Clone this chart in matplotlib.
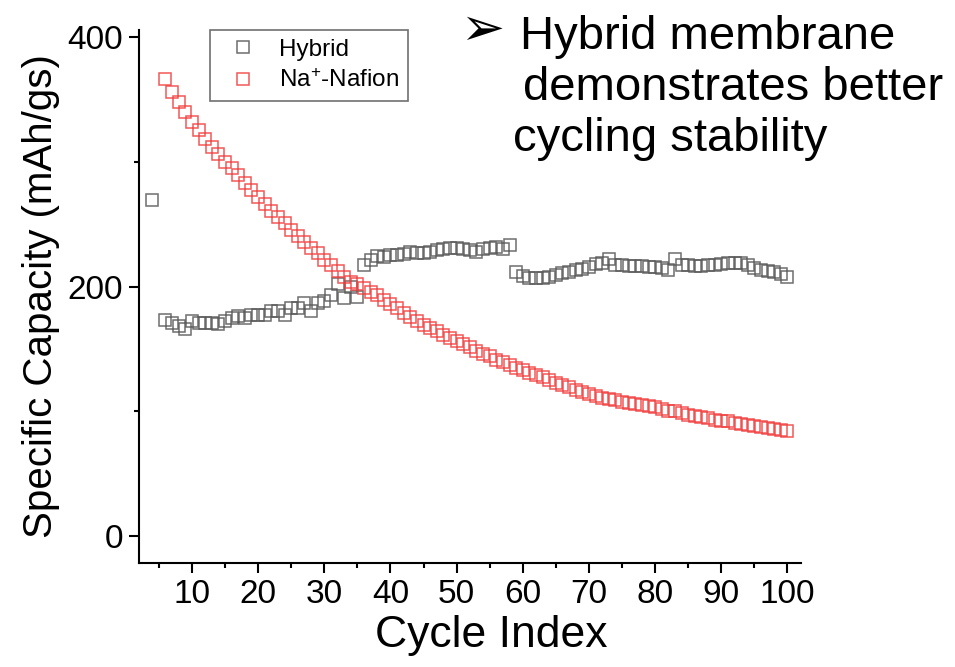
import matplotlib
matplotlib.use('Agg')
import matplotlib.pyplot as plt
from matplotlib.ticker import MultipleLocator

plt.rcParams['font.family'] = ['Liberation Sans', 'DejaVu Sans']
plt.rcParams['mathtext.default'] = 'regular'

# cycle capacity data
hybrid_cycles = [4] + list(range(6, 101))
hybrid_capacity = [
    269,
    173, 171, 168.5, 166, 172.5, 170.5, 171, 171, 170, 172.5,
    175, 176.5, 175, 177, 177, 177, 180, 180, 177, 182.5,
    183, 187, 180.5, 186.5, 188, 193.5, 202, 190.5, 200, 192,
    217, 221, 224.5, 224, 225, 225, 225.7, 227.5, 226.5, 226.5,
    228, 229, 230, 231, 231, 230, 229, 228, 230, 231,
    232, 230, 233,
    212, 208.5, 206.5, 206.5, 206.5, 208, 209, 210.5, 212, 213,
    214, 216, 217.7, 218.5, 221.7, 217.2, 216.9, 216.4, 216.4, 216.4,
    216, 215.5, 214.5, 213.2, 221.7, 217.2, 216.9, 216.4, 216.4, 216.9,
    217.2, 218, 218.5, 219, 218.5, 217.2, 214.5, 213.2, 212.7, 211.9,
    210, 208,
]

nafion_cycles = list(range(6, 101))
nafion_capacity = [
    365.7, 355.9, 347.9, 339.9, 331.9, 325.2, 317.7, 311.9, 305.7, 299.9,
    294.5, 289.2, 283.1, 277.2, 271.9, 266, 260.4, 255.9, 250.5, 245.2,
    240.7, 235.9, 230.5, 226.5, 221.2, 217.2, 212.4, 207.9, 203.9, 202,
    199.1, 195.9,
    193, 189.5, 186, 182.5, 179, 175.5, 172.5, 169.5, 167, 164,
    161.5, 159, 156.5, 154, 151.5, 148.5, 146, 144, 141.5, 139.5,
    137.5, 135, 133, 131, 129, 127.5, 125, 123, 121.5, 119.5,
    117, 115.5, 114, 112.5, 111, 109.8, 108.8, 107.8, 106.8, 106,
    105.2, 104.4, 103.3, 101.7, 100.7, 100, 98.5, 97.2, 96, 95.3,
    94.5, 93.2, 92.7, 92, 91, 90, 89.2, 88.4, 87.3, 86.5,
    86, 85.5, 84.7,
]

W, H = 955, 667
fig = plt.figure(figsize=(W / 100, H / 100), dpi=100)
ax = fig.add_axes([139 / W, 1 - 562.7 / H, 661.7 / W, 532.4 / H])

ax.plot(hybrid_cycles, hybrid_capacity, linestyle='none', marker='s', ms=8,
        mfc='none', mec='#555555', mew=1.1, alpha=0.85, label='Hybrid')
ax.plot(nafion_cycles, nafion_capacity, linestyle='none', marker='s', ms=8,
        mfc='none', mec='#f03a3a', mew=1.1, alpha=0.85, label='Na$^{+}$-Nafion')

ax.set_xlim(2, 102)
ax.set_ylim(-21, 405)
ax.xaxis.set_major_locator(MultipleLocator(10))
ax.xaxis.set_minor_locator(MultipleLocator(5))
ax.yaxis.set_major_locator(MultipleLocator(200))
ax.yaxis.set_minor_locator(MultipleLocator(100))

for side in ['top', 'right']:
    ax.spines[side].set_visible(False)
for side in ['left', 'bottom']:
    ax.spines[side].set_linewidth(1.5)

ax.tick_params(which='major', direction='out', length=7.5, width=1.5,
               labelsize=24, pad=4)
ax.tick_params(which='minor', direction='out', length=3.8, width=1.5)

ax.set_xlabel('Cycle Index', fontsize=32, labelpad=4)
ax.xaxis.label.set_x(0.532)
ax.set_ylabel('Specific Capacity (mAh/gs)', fontsize=29, labelpad=5)

leg = ax.legend(loc='upper left', bbox_to_anchor=(0.107, 1.0), borderaxespad=0,
                fontsize=17.5, numpoints=1, fancybox=False, framealpha=1,
                edgecolor='#707070', handletextpad=0.5, borderpad=0.35,
                labelspacing=0.35)
leg.get_frame().set_linewidth(1.2)

# bullet note at the top right
fig.text(460 / W, 1 - 45 / H, '\u27a2', fontsize=38, va='baseline', ha='left')
fig.text(520 / W, 1 - 49 / H, 'Hybrid membrane', fontsize=34, va='baseline')
fig.text(523 / W, 1 - 100 / H, 'demonstrates better', fontsize=34, va='baseline')
fig.text(513 / W, 1 - 151 / H, 'cycling stability', fontsize=34, va='baseline')

fig.savefig('out.png', dpi=100)
